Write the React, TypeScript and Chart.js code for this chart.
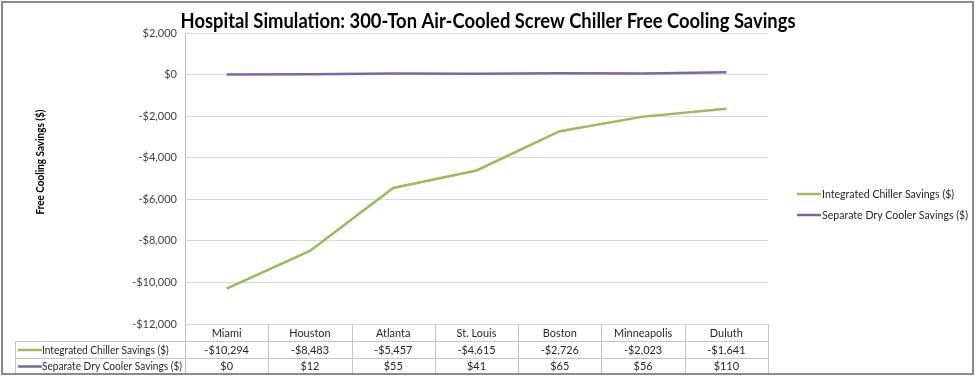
import React, { useEffect, useRef } from "react";
import { Chart, registerables } from "chart.js";

Chart.register(...registerables);

const chartTitle = "Hospital Simulation: 300-Ton Air-Cooled Screw Chiller Free Cooling Savings";
const yAxisTitle = "Free Cooling Savings ($)";
const cities = ["Miami", "Houston", "Atlanta", "St. Louis", "Boston", "Minneapolis", "Duluth"];
const integratedSavings = [-10294, -8483, -5457, -4615, -2726, -2023, -1641];
const dryCoolerSavings = [0, 12, 55, 41, 65, 56, 110];
const seriesNames = ["Integrated Chiller Savings ($)", "Separate Dry Cooler Savings ($)"];
const seriesColors = ["#9BBB59", "#8064A2"];
const yMin = -12000;
const yMax = 2000;
const yStep = 2000;

const FONT = "Lato, 'Liberation Sans', sans-serif";

const fmt = (v: number) => (v < 0 ? "-" : "") + "$" + Math.abs(v).toLocaleString("en-US");

// draw text at given size, horizontally condensed by factor sx (left aligned at x)
function drawCondensed(ctx: CanvasRenderingContext2D, text: string, x: number, y: number, sx: number) {
  ctx.save();
  ctx.translate(x, y);
  ctx.scale(sx, 1);
  ctx.fillText(text, 0, 0);
  ctx.restore();
}

const decorPlugin = {
  id: "decor",
  afterDraw(chart: any) {
    const ctx = chart.ctx as CanvasRenderingContext2D;
    const area = chart.chartArea;
    const xs = chart.scales.x;
    const n = cities.length;
    const colW = (area.right - area.left) / n;
    ctx.save();

    // title
    ctx.fillStyle = "#000";
    ctx.textAlign = "center";
    ctx.textBaseline = "middle";
    ctx.font = `bold 20px ${FONT}`;
    const tw = ctx.measureText(chartTitle).width;
    drawCondensed(ctx, chartTitle, 488, 22, 615 / tw);

    // y axis title
    ctx.save();
    ctx.translate(40, 162);
    ctx.rotate(-Math.PI / 2);
    ctx.font = `bold 11px ${FONT}`;
    const yw = ctx.measureText(yAxisTitle).width;
    drawCondensed(ctx, yAxisTitle, 0, 0, 105 / yw);
    ctx.restore();

    // right legend
    const legendY = [194, 215];
    ctx.textAlign = "left";
    ctx.font = `11.5px ${FONT}`;
    const lsx = 146 / ctx.measureText(seriesNames[1]).width;
    seriesNames.forEach((name, i) => {
      ctx.strokeStyle = seriesColors[i];
      ctx.lineWidth = 2.5;
      ctx.beginPath();
      ctx.moveTo(797, legendY[i]);
      ctx.lineTo(821, legendY[i]);
      ctx.stroke();
      ctx.fillStyle = "#262626";
      drawCondensed(ctx, name, 822, legendY[i] + 0.5, lsx);
    });

    // data table
    const top = area.bottom;
    const r1 = top + 17;
    const r2 = r1 + 17;
    const bottom = r2 + 16;
    const labelLeft = 15;
    ctx.strokeStyle = "#c4c4c4";
    ctx.lineWidth = 1;
    ctx.beginPath();
    for (let i = 0; i <= n; i++) {
      const x = Math.round(area.left + i * colW) + 0.5;
      ctx.moveTo(x, top);
      ctx.lineTo(x, bottom);
    }
    ctx.moveTo(labelLeft + 0.5, r1);
    ctx.lineTo(labelLeft + 0.5, bottom);
    [r1, r2, bottom].forEach((y) => {
      ctx.moveTo(labelLeft, y + 0.5);
      ctx.lineTo(area.right, y + 0.5);
    });
    ctx.stroke();

    ctx.textAlign = "center";
    ctx.fillStyle = "#262626";
    ctx.font = `11.5px ${FONT}`;
    const rows = [integratedSavings, dryCoolerSavings];
    cities.forEach((c, i) => {
      const cx = xs.getPixelForValue(i);
      drawCondensed(ctx, c, cx, top + 9, 0.95);
      drawCondensed(ctx, fmt(rows[0][i]), cx, r1 + 9, 0.95);
      drawCondensed(ctx, fmt(rows[1][i]), cx, r2 + 8.5, 0.95);
    });
    ctx.textAlign = "left";
    const tsx = 140 / ctx.measureText(seriesNames[1]).width;
    seriesNames.forEach((name, i) => {
      const y = i === 0 ? r1 + 9 : r2 + 8.5;
      ctx.strokeStyle = seriesColors[i];
      ctx.lineWidth = 2.5;
      ctx.beginPath();
      ctx.moveTo(18, y);
      ctx.lineTo(42, y);
      ctx.stroke();
      drawCondensed(ctx, name, 42, y, tsx);
    });

    // outer border
    ctx.strokeStyle = "#8a8a8a";
    ctx.lineWidth = 2;
    ctx.strokeRect(2, 2, 971, 372);
    ctx.restore();
  },
};

export default function App() {
  const ref = useRef<HTMLCanvasElement>(null);
  useEffect(() => {
    document.body.style.margin = "0";
    const chart = new Chart(ref.current as HTMLCanvasElement, {
      type: "line",
      data: {
        labels: cities,
        datasets: [
          {
            label: seriesNames[0],
            data: integratedSavings,
            borderColor: seriesColors[0],
            backgroundColor: seriesColors[0],
            borderWidth: 2.5,
            pointRadius: 0,
            tension: 0,
          },
          {
            label: seriesNames[1],
            data: dryCoolerSavings,
            borderColor: seriesColors[1],
            backgroundColor: seriesColors[1],
            borderWidth: 2.5,
            pointRadius: 0,
            tension: 0,
          },
        ],
      },
      options: {
        responsive: false,
        animation: false,
        devicePixelRatio: 1,
        layout: { padding: { left: 0, top: 33, right: 977 - 768, bottom: 377 - 324 } },
        plugins: {
          legend: { display: false },
          title: { display: false },
          tooltip: { enabled: false },
        },
        scales: {
          x: {
            display: false,
            offset: true,
          },
          y: {
            min: yMin,
            max: yMax,
            afterFit: (s: any) => {
              s.width = 185;
            },
            ticks: {
              stepSize: yStep,
              callback: (v: any) => fmt(Number(v)),
              font: { family: FONT, size: 11 },
              color: "#404040",
              padding: 8,
            },
            grid: { color: "#d9d9d9", drawTicks: false },
            border: { color: "#bfbfbf" },
          },
        },
      },
      plugins: [decorPlugin],
    });
    return () => chart.destroy();
  }, []);
  return <canvas ref={ref} width={977} height={377} style={{ display: "block" }} />;
}
